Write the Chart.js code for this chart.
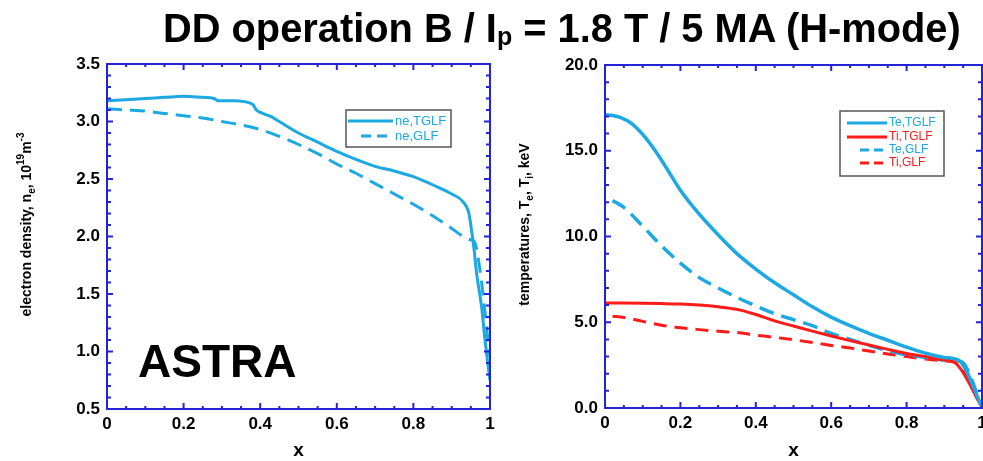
<!DOCTYPE html>
<html lang="en">
<head>
  <meta charset="UTF-8" />
  <title>DD operation profiles</title>
  <script src="https://cdn.jsdelivr.net/npm/chart.js"></script>
  <style>
    body {
      margin: 0;
      width: 983px;
      height: 461px;
      overflow: hidden;
      position: relative;
      background: #fff;
      font-family: 'Liberation Sans', Arial, sans-serif;
    }
    #title {
      position: absolute;
      left: 163px;
      top: 9px;
      font-size: 39.8px;
      line-height: 39.8px;
      font-weight: bold;
      color: #000;
      white-space: nowrap;
      z-index: 2;
    }
    #title sub {
      font-size: 25px;
      vertical-align: -3px;
      line-height: 0;
    }
    canvas { position: absolute; top: 0; }
  </style>
</head>
<body>
  <div id="title">DD operation B / I<sub>p</sub> = 1.8 T / 5 MA (H-mode)</div>
  <canvas id="neChart" width="495" height="461" style="left:0"></canvas>
  <canvas id="tChart" width="488" height="461" style="left:495px"></canvas>

  <script>
    // --- left panel: electron density (10^19 m^-3) ---
    const neTglfX = [0, 0.05, 0.1, 0.15, 0.2, 0.25, 0.28, 0.29, 0.33, 0.38, 0.39, 0.4, 0.43, 0.45, 0.5, 0.55, 0.6, 0.65, 0.7, 0.75, 0.8, 0.85, 0.9, 0.93, 0.945, 0.952, 0.958, 0.965, 0.978, 0.987, 0.995, 1.0];
    const neTglf  = [3.18, 3.19, 3.20, 3.21, 3.22, 3.21, 3.20, 3.18, 3.18, 3.15, 3.10, 3.08, 3.04, 3.00, 2.90, 2.82, 2.74, 2.67, 2.61, 2.57, 2.52, 2.45, 2.37, 2.30, 2.20, 2.05, 1.90, 1.68, 1.39, 1.10, 0.88, 0.75];
    const neGlfX  = [0, 0.05, 0.1, 0.15, 0.2, 0.25, 0.3, 0.35, 0.4, 0.45, 0.5, 0.55, 0.6, 0.65, 0.7, 0.75, 0.8, 0.85, 0.9, 0.93, 0.95, 0.96, 0.975, 0.985, 0.993, 1.0];
    const neGlf   = [3.11, 3.10, 3.09, 3.07, 3.05, 3.03, 3.00, 2.97, 2.93, 2.87, 2.80, 2.72, 2.63, 2.55, 2.46, 2.37, 2.28, 2.18, 2.07, 2.00, 1.97, 1.95, 1.68, 1.40, 1.15, 0.95];

    // --- right panel: temperatures (keV) ---
    const teTglfX = [0, 0.02, 0.04, 0.07, 0.1, 0.13, 0.16, 0.2, 0.25, 0.3, 0.35, 0.4, 0.45, 0.5, 0.55, 0.6, 0.65, 0.7, 0.75, 0.8, 0.85, 0.9, 0.94, 1.0];
    const teTglf  = [17.1, 17.05, 16.95, 16.6, 15.95, 15.1, 14.1, 12.7, 11.3, 10.1, 9.0, 8.1, 7.3, 6.6, 5.9, 5.3, 4.8, 4.35, 3.95, 3.55, 3.2, 2.95, 2.75, 0.05];
    const tiTglfX = [0, 0.05, 0.1, 0.15, 0.2, 0.25, 0.3, 0.35, 0.4, 0.45, 0.5, 0.55, 0.6, 0.65, 0.7, 0.75, 0.8, 0.85, 0.88, 0.9, 0.93, 1.0];
    const tiTglf  = [6.12, 6.12, 6.11, 6.09, 6.06, 6.00, 5.90, 5.75, 5.45, 5.08, 4.78, 4.48, 4.20, 3.93, 3.67, 3.42, 3.18, 3.00, 2.85, 2.80, 2.62, 0.05];
    const teGlfX  = [0.02, 0.05, 0.1, 0.15, 0.2, 0.25, 0.3, 0.35, 0.4, 0.45, 0.5, 0.55, 0.6, 0.65, 0.7, 0.75, 0.8, 0.85, 0.9, 0.945, 1.0];
    const teGlf   = [12.1, 11.7, 10.6, 9.45, 8.45, 7.6, 7.0, 6.45, 5.95, 5.5, 5.15, 4.8, 4.35, 4.0, 3.65, 3.35, 3.1, 2.95, 2.8, 2.7, 0.1];
    const tiGlfX  = [0.02, 0.05, 0.1, 0.15, 0.2, 0.25, 0.3, 0.35, 0.4, 0.45, 0.5, 0.55, 0.6, 0.65, 0.7, 0.75, 0.8, 0.85, 0.9, 0.93, 1.0];
    const tiGlf   = [5.35, 5.28, 5.05, 4.82, 4.68, 4.57, 4.48, 4.40, 4.25, 4.12, 3.98, 3.82, 3.65, 3.50, 3.32, 3.15, 3.00, 2.85, 2.75, 2.65, 0.05];

    const neTicksY = [0.5, 3.5, 0.5, 0.1];   // min, max, major step, minor step
    const tTicksY  = [0, 20, 5, 1];
    const xTicks   = [0, 1, 0.2, 0.05];

    const AXIS_BLUE = '#2323d8';
    const CYAN = '#1ca8e2';
    const RED = '#ff1a1a';
    const FONT = "'Liberation Sans', Arial, sans-serif";

    const pts = (xs, ys) => xs.map((x, i) => ({ x: x, y: ys[i] }));

    // box + inward ticks on all four sides
    const frame = {
      id: 'frame',
      afterDatasetsDraw(chart) {
        const { ctx, chartArea: a, scales } = chart;
        const xs = scales.x, ys = scales.y;
        const xt = chart.options.plugins.frame.x, yt = chart.options.plugins.frame.y;
        ctx.save();
        ctx.strokeStyle = AXIS_BLUE;
        ctx.lineWidth = 2;
        ctx.beginPath();
        let n = Math.round((xt[1] - xt[0]) / xt[3]);
        for (let i = 0; i <= n; i++) {
          const v = xt[0] + i * xt[3];
          const r = v / xt[2];
          const len = Math.abs(r - Math.round(r)) < 1e-6 ? 6 : 3;
          const p = xs.getPixelForValue(v);
          ctx.moveTo(p, a.bottom); ctx.lineTo(p, a.bottom - len);
          ctx.moveTo(p, a.top); ctx.lineTo(p, a.top + len);
        }
        n = Math.round((yt[1] - yt[0]) / yt[3]);
        for (let i = 0; i <= n; i++) {
          const v = yt[0] + i * yt[3];
          const r = (v - yt[0]) / yt[2];
          const len = Math.abs(r - Math.round(r)) < 1e-6 ? 6 : 4;
          const p = ys.getPixelForValue(v);
          ctx.moveTo(a.left, p); ctx.lineTo(a.left + len, p);
          ctx.moveTo(a.right, p); ctx.lineTo(a.right - len, p);
        }
        ctx.stroke();
        ctx.strokeRect(a.left, a.top, a.right - a.left, a.bottom - a.top);
        ctx.restore();
      }
    };

    // rich text: segments with sub / sup
    function drawRich(ctx, segs, cx, cy, rot) {
      const big = 'bold 14px ' + FONT, small = 'bold 10px ' + FONT;
      let w = 0;
      segs.forEach(s => { ctx.font = s.sub || s.sup ? small : big; w += ctx.measureText(s.t).width; });
      ctx.save();
      ctx.translate(cx, cy);
      if (rot) ctx.rotate(-Math.PI / 2);
      ctx.fillStyle = '#000';
      ctx.textBaseline = 'middle';
      ctx.textAlign = 'left';
      let x = -w / 2;
      segs.forEach(s => {
        ctx.font = s.sub || s.sup ? small : big;
        ctx.fillText(s.t, x, s.sub ? 5 : s.sup ? -6 : 0);
        x += ctx.measureText(s.t).width;
      });
      ctx.restore();
    }

    const labels = {
      id: 'labels',
      afterDraw(chart) {
        const o = chart.options.plugins.labels;
        const { ctx, chartArea: a } = chart;
        drawRich(ctx, o.yTitle, o.yTitleX, (a.top + a.bottom) / 2 - 12, true);
        ctx.save();
        ctx.fillStyle = '#000';
        ctx.font = 'bold 19px ' + FONT;
        ctx.textAlign = 'center';
        ctx.textBaseline = 'middle';
        ctx.fillText('x', (a.left + a.right) / 2, 451);
        if (o.stamp) {
          ctx.font = 'bold 46px ' + FONT;
          ctx.textAlign = 'left';
          ctx.textBaseline = 'alphabetic';
          ctx.fillText(o.stamp, 138, 377);
        }
        ctx.restore();
      }
    };

    // framed legend inside the plot
    const boxLegend = {
      id: 'boxLegend',
      afterDraw(chart) {
        const o = chart.options.plugins.boxLegend;
        const ctx = chart.ctx;
        ctx.save();
        ctx.fillStyle = '#fff';
        ctx.fillRect(o.box[0], o.box[1], o.box[2], o.box[3]);
        ctx.strokeStyle = '#555';
        ctx.lineWidth = 1.5;
        ctx.strokeRect(o.box[0], o.box[1], o.box[2], o.box[3]);
        ctx.font = o.font + 'px ' + FONT;
        ctx.textBaseline = 'middle';
        chart.data.datasets.forEach((ds, i) => {
          const y = o.box[1] + o.rows[i];
          const dashed = ds.borderDash && ds.borderDash.length;
          ctx.strokeStyle = ds.borderColor;
          ctx.lineWidth = 3;
          ctx.setLineDash(dashed ? o.dash : []);
          ctx.beginPath();
          ctx.moveTo(dashed ? o.line[0] + o.dashIndent : o.line[0], y);
          ctx.lineTo(o.line[1], y);
          ctx.stroke();
          ctx.setLineDash([]);
          ctx.fillStyle = ds.borderColor;
          ctx.fillText(ds.label, o.line[1] + 2, y);
        });
        ctx.restore();
      }
    };

    function line(label, data, color, dash, width) {
      return {
        label: label,
        data: data,
        borderColor: color,
        backgroundColor: color,
        borderWidth: width,
        borderDash: dash,
        pointRadius: 0,
        fill: false,
        cubicInterpolationMode: 'monotone'
      };
    }

    function axes(yt, yWidth, xHeight) {
      return {
        x: {
          type: 'linear', min: xTicks[0], max: xTicks[1],
          grid: { display: false, drawTicks: false },
          border: { display: false },
          ticks: {
            stepSize: xTicks[2], padding: 5, color: '#000', maxRotation: 0, autoSkip: false,
            font: { family: FONT, size: 17, weight: 'bold' },
            callback: v => String(+Number(v).toFixed(1))
          },
          afterFit: s => { s.height = xHeight; s.paddingLeft = 0; s.paddingRight = 0; }
        },
        y: {
          type: 'linear', min: yt[0], max: yt[1],
          grid: { display: false, drawTicks: false },
          border: { display: false },
          ticks: {
            stepSize: yt[2], padding: 7, color: '#000',
            font: { family: FONT, size: 17, weight: 'bold' },
            callback: v => Number(v).toFixed(1)
          },
          afterFit: s => { s.width = yWidth; s.paddingTop = 0; s.paddingBottom = 0; }
        }
      };
    }

    const base = {
      responsive: false,
      animation: false,
      events: [],
      plugins: { legend: { display: false }, tooltip: { enabled: false } }
    };

    new Chart(document.getElementById('neChart'), {
      type: 'line',
      data: {
        datasets: [
          line('ne,TGLF', pts(neTglfX, neTglf), CYAN, [], 3),
          line('ne,GLF', pts(neGlfX, neGlf), CYAN, [15, 8], 3)
        ]
      },
      options: Object.assign({}, base, {
        layout: { padding: { left: 0, top: 64, right: 5, bottom: 0 } },
        scales: axes(neTicksY, 107, 52),
        plugins: Object.assign({}, base.plugins, {
          frame: { x: xTicks, y: neTicksY },
          labels: {
            yTitleX: 27,
            stamp: 'ASTRA',
            yTitle: [
              { t: 'electron density, n' }, { t: 'e', sub: true }, { t: ', 10' },
              { t: '19', sup: true }, { t: 'm' }, { t: '-3', sup: true }
            ]
          },
          boxLegend: { box: [346, 110, 105, 37], rows: [11, 26], line: [348, 393], dashIndent: 13, dash: [10, 6], font: 13 }
        })
      }),
      plugins: [frame, labels, boxLegend]
    });

    new Chart(document.getElementById('tChart'), {
      type: 'line',
      data: {
        datasets: [
          line('Te,TGLF', pts(teTglfX, teTglf), CYAN, [], 3.5),
          line('Ti,TGLF', pts(tiTglfX, tiTglf), RED, [], 3),
          line('Te,GLF', pts(teGlfX, teGlf), CYAN, [15, 8], 3.5),
          line('Ti,GLF', pts(tiGlfX, tiGlf), RED, [13, 8], 3)
        ]
      },
      options: Object.assign({}, base, {
        layout: { padding: { left: 0, top: 65, right: 1, bottom: 0 } },
        scales: axes(tTicksY, 110, 53),
        plugins: Object.assign({}, base.plugins, {
          frame: { x: xTicks, y: tTicksY },
          labels: {
            yTitleX: 30,
            yTitle: [
              { t: 'temperatures, T' }, { t: 'e', sub: true }, { t: ', T' },
              { t: 'i', sub: true }, { t: ', keV' }
            ]
          },
          boxLegend: { box: [345, 111, 104, 65], rows: [12, 26, 39, 52], line: [352, 392], dashIndent: 13, dash: [9, 5], font: 12 }
        })
      }),
      plugins: [frame, labels, boxLegend]
    });
  </script>
</body>
</html>
